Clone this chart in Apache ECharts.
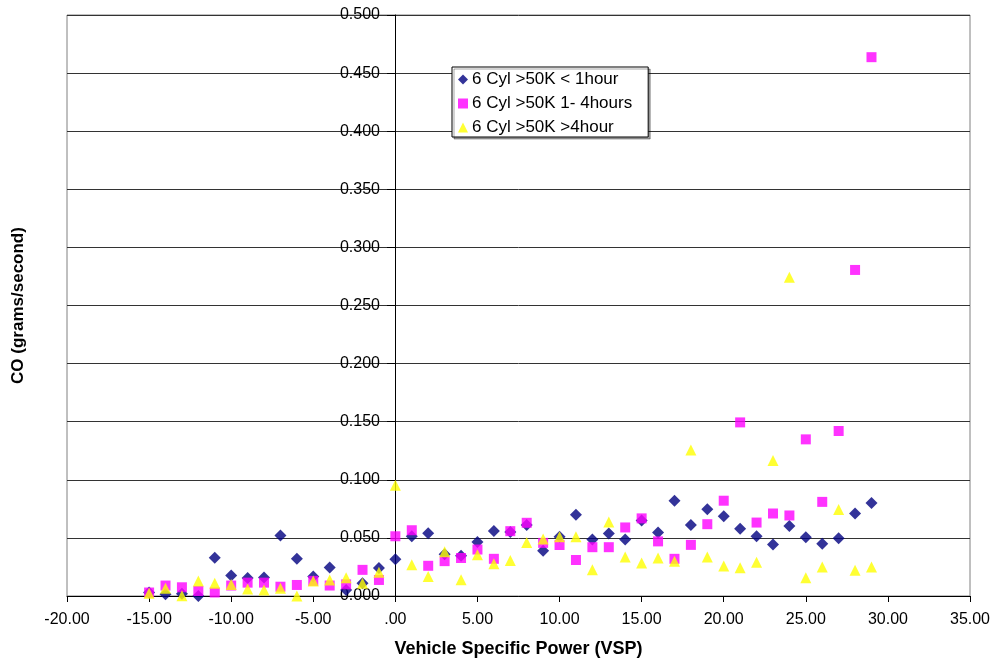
<!DOCTYPE html>
<html>
<head>
<meta charset="utf-8">
<title>CO vs VSP</title>
<script src="https://cdn.jsdelivr.net/npm/echarts@6/dist/echarts.min.js"></script>
<style>
    html, body { margin: 0; padding: 0; background: #fff; }
    #chart { width: 994px; height: 662px; }
</style>
</head>
<body>
<div id="chart"></div>
<script>
    /*数据 - VSP 区间 -15 .. 29*/
    var vspBins = [-15, -14, -13, -12, -11, -10, -9, -8, -7, -6, -5, -4, -3, -2, -1,
        0, 1, 2, 3, 4, 5, 6, 7, 8, 9, 10, 11, 12, 13, 14,
        15, 16, 17, 18, 19, 20, 21, 22, 23, 24, 25, 26, 27, 28, 29];

    var seriesNames = ['6 Cyl >50K < 1hour', '6 Cyl >50K 1- 4hours', '6 Cyl >50K >4hour'];

    // < 1hour
    var coLt1h = [0.003, 0.0015, 0.002, 0.000, 0.033, 0.0176, 0.0155, 0.016, 0.052, 0.032, 0.0167, 0.0245, 0.0052, 0.011, 0.024,
        0.0317, 0.0514, 0.054, 0.036, 0.0347, 0.0465, 0.056, 0.055, 0.061, 0.039, 0.0509, 0.070, 0.0486, 0.0538, 0.0486,
        0.065, 0.0546, 0.082, 0.061, 0.0747, 0.0687, 0.0578, 0.0514, 0.0443, 0.0603, 0.0506, 0.045, 0.0497, 0.071, 0.080];

    // 1- 4hours
    var co1to4h = [0.003, 0.009, 0.0075, 0.0043, 0.003, 0.009, 0.0115, 0.0115, 0.008, 0.0095, 0.013, 0.009, 0.010, 0.0225, 0.0138,
        0.0514, 0.0566, 0.026, 0.030, 0.0327, 0.040, 0.032, 0.0558, 0.063, 0.0457, 0.0439, 0.031, 0.042, 0.042, 0.059,
        0.0668, 0.047, 0.032, 0.044, 0.0618, 0.082, 0.1494, 0.0632, 0.071, 0.0693, 0.1348, 0.081, 0.142, 0.2806, 0.4637];

    // >4hour
    var coGt4h = [0.0023, 0.0066, 0.0003, 0.013, 0.011, 0.010, 0.006, 0.0052, 0.0066, 0.000, 0.013, 0.0138, 0.0158, 0.011, 0.0204,
        0.0954, 0.0269, 0.0168, 0.038, 0.0139, 0.0355, 0.0277, 0.0306, 0.046, 0.049, 0.051, 0.051, 0.0225, 0.0636, 0.0335,
        0.0283, 0.0327, 0.030, 0.1256, 0.0336, 0.0259, 0.0244, 0.029, 0.1167, 0.2743, 0.0158, 0.025, 0.0744, 0.0221, 0.025];

    var font = 'Liberation Sans, Arial, sans-serif';

    //组合 [x, y]
    function pairs(values) {
        var out = [];
        for (var i = 0; i < vspBins.length; i++) {
            out.push([vspBins[i], values[i]]);
        }
        return out;
    }

    //y轴放在 x=0 处: 网格左边到 0 的距离
    var gridLeft = 67, gridRight = 24;
    var plotWidth = 994 - gridLeft - gridRight;
    var yAxisShift = Math.round(plotWidth * 20 / 55);

    var chart = echarts.init(document.getElementById('chart'));
    var option = {
        animation: false,
        backgroundColor: '#fff',
        grid: {
            left: gridLeft,
            right: gridRight,
            top: 15,
            bottom: 66,
            containLabel: false,
            outerBoundsMode: 'none',
            show: true,
            borderColor: '#808080',
            borderWidth: 1
        },
        legend: {
            data: seriesNames,
            orient: 'vertical',
            left: 452,
            top: 67,
            itemWidth: 10,
            itemHeight: 10,
            itemGap: 7,
            padding: [4, 16, 1, 6],
            backgroundColor: '#fff',
            borderColor: '#000',
            borderWidth: 1,
            borderRadius: 0,
            shadowColor: 'rgba(0,0,0,0.35)',
            shadowOffsetX: 2,
            shadowOffsetY: 2,
            textStyle: { fontFamily: font, fontSize: 17, color: '#000', lineHeight: 17, padding: [0, 0, 0, -1] }
        },
        xAxis: {
            type: 'value',
            min: -20,
            max: 35,
            interval: 5,
            name: 'Vehicle Specific Power (VSP)',
            nameLocation: 'middle',
            nameGap: 44,
            nameTextStyle: { fontFamily: font, fontSize: 18, fontWeight: 'bold', color: '#000' },
            axisLine: { lineStyle: { color: '#000', width: 1 } },
            axisTick: { show: true, length: 6, lineStyle: { color: '#000' } },
            axisLabel: {
                fontFamily: font, fontSize: 16, color: '#000', margin: 16,
                showMinLabel: true, showMaxLabel: true,
                formatter: function (v) { return v === 0 ? '.00' : v.toFixed(2); }
            },
            splitLine: { show: false }
        },
        yAxis: {
            type: 'value',
            min: 0,
            max: 0.5,
            interval: 0.05,
            offset: -yAxisShift,
            name: 'CO (grams/second)',
            nameLocation: 'middle',
            nameGap: 368,
            nameTextStyle: { fontFamily: font, fontSize: 17, fontWeight: 'bold', color: '#000' },
            axisLine: { show: true, onZero: false, lineStyle: { color: '#000', width: 1 } },
            axisTick: { show: true, length: 8, lineStyle: { color: '#000' } },
            axisLabel: {
                fontFamily: font, fontSize: 16, color: '#000', margin: 15,
                formatter: function (v) { return v.toFixed(3); }
            },
            splitLine: { show: true, lineStyle: { color: '#333', width: 1 } }
        },
        series: [
            {
                name: seriesNames[0],
                type: 'scatter',
                symbol: 'diamond',
                symbolSize: 12,
                itemStyle: { color: '#000080' },
                data: pairs(coLt1h)
            },
            {
                name: seriesNames[1],
                type: 'scatter',
                symbol: 'rect',
                symbolSize: 10,
                itemStyle: { color: '#ff00ff' },
                data: pairs(co1to4h)
            },
            {
                name: seriesNames[2],
                type: 'scatter',
                symbol: 'triangle',
                symbolSize: 11,
                itemStyle: { color: '#ffff00' },
                data: pairs(coGt4h)
            }
        ]
    };
    chart.setOption(option);
</script>
</body>
</html>
